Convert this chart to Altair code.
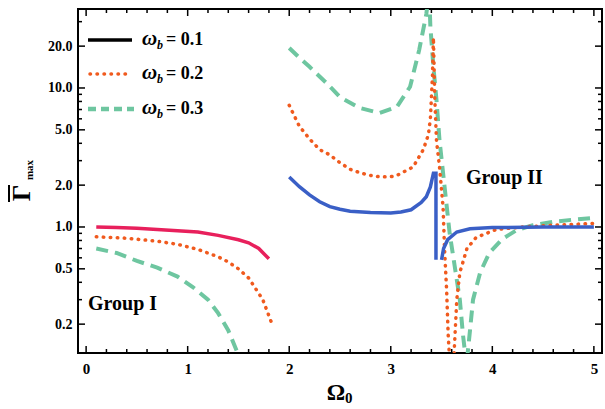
import altair as alt
import pandas as pd

# ---------------- data ----------------
# omega_b = 0.1 (solid)
s1_g1_x = [0.1, 0.3, 0.5, 0.7, 0.9, 1.1, 1.3, 1.5, 1.6, 1.7, 1.8]
s1_g1_y = [1.0, 0.99, 0.98, 0.96, 0.94, 0.92, 0.87, 0.81, 0.77, 0.70, 0.59]
s1_g2a_x = [2.0, 2.1, 2.2, 2.3, 2.4, 2.5, 2.6, 2.8, 3.0, 3.1, 3.2, 3.3, 3.35, 3.39, 3.42, 3.445, 3.445]
s1_g2a_y = [2.29, 1.95, 1.70, 1.52, 1.40, 1.34, 1.30, 1.27, 1.26, 1.28, 1.33, 1.50, 1.65, 1.94, 2.44, 2.44, 0.58]
s1_g2b_x = [3.50, 3.52, 3.56, 3.65, 3.78, 4.0, 4.5, 5.0]
s1_g2b_y = [0.58, 0.70, 0.81, 0.92, 0.97, 0.99, 1.0, 1.0]

# omega_b = 0.2 (dotted)
s2_g1_x = [0.1, 0.4, 0.7, 0.9, 1.1, 1.3, 1.4, 1.5, 1.6, 1.74, 1.82]
s2_g1_y = [0.85, 0.83, 0.79, 0.75, 0.69, 0.61, 0.56, 0.50, 0.43, 0.30, 0.21]
s2_g2a_x = [2.0, 2.1, 2.2, 2.3, 2.4, 2.5, 2.6, 2.7, 2.8, 2.9, 3.0, 3.06, 3.22, 3.32, 3.37, 3.39, 3.41,
            3.42, 3.434, 3.45, 3.48, 3.515, 3.53, 3.55, 3.565, 3.58]
s2_g2a_y = [7.5, 5.3, 4.3, 3.6, 3.3, 2.9, 2.6, 2.45, 2.35, 2.29, 2.3, 2.35, 2.7, 3.6, 4.6, 6.0, 12.0,
            23.0, 8.2, 4.2, 2.7, 1.39, 0.68, 0.35, 0.17, 0.11]
s2_g2b_x = [3.62, 3.65, 3.68, 3.75, 3.84, 4.04, 4.3, 4.6, 5.0]
s2_g2b_y = [0.11, 0.30, 0.47, 0.70, 0.84, 0.96, 1.0, 1.03, 1.06]

# omega_b = 0.3 (dashed)
s3_g1_x = [0.1, 0.3, 0.5, 0.7, 0.9, 1.05, 1.2, 1.3, 1.4, 1.5]
s3_g1_y = [0.70, 0.65, 0.57, 0.51, 0.44, 0.37, 0.30, 0.24, 0.18, 0.12]
s3_g2a_x = [2.0, 2.1, 2.2, 2.37, 2.5, 2.69, 2.89, 3.06, 3.19, 3.28, 3.35, 3.37, 3.38, 3.39, 3.42, 3.45,
            3.48, 3.53, 3.58, 3.63, 3.68, 3.71, 3.74]
s3_g2a_y = [19.4, 16.5, 14.2, 10.8, 8.6, 7.2, 6.6, 7.3, 10.2, 18.8, 34.0, 45.0, 45.0, 27.5, 14.2, 8.2,
            4.2, 1.94, 0.90, 0.52, 0.30, 0.17, 0.11]
s3_g2b_x = [3.75, 3.78, 3.81, 3.88, 3.97, 4.1, 4.24, 4.4, 4.6, 4.8, 5.0]
s3_g2b_y = [0.11, 0.18, 0.30, 0.47, 0.65, 0.82, 0.95, 1.03, 1.09, 1.13, 1.16]

legend_labels = ["= 0.1", "= 0.2", "= 0.3"]
x_tick_labels = [0, 1, 2, 3, 4, 5]
y_tick_labels = [0.2, 0.5, 1.0, 2.0, 5.0, 10.0, 20.0]
x_minor = [round(i * 0.2, 1) for i in range(0, 26) if i % 5 != 0]
y_minor = [0.3, 0.4, 0.6, 0.7, 0.8, 0.9, 3, 4, 6, 7, 8, 9, 30]

# ---------------- build table ----------------
rows = []
def add(seg, style, xs, ys):
    for i, (a, b) in enumerate(zip(xs, ys)):
        rows.append({"x": a, "y": b, "seg": seg, "style": style, "ord": i})

add("s1g1", "solid", s1_g1_x, s1_g1_y)
add("s1g2a", "solid", s1_g2a_x, s1_g2a_y)
add("s1g2b", "solid", s1_g2b_x, s1_g2b_y)
add("s2g1", "dot", s2_g1_x, s2_g1_y)
add("s2g2a", "dot", s2_g2a_x, s2_g2a_y)
add("s2g2b", "dot", s2_g2b_x, s2_g2b_y)
add("s3g1", "dash", s3_g1_x, s3_g1_y)
add("s3g2a", "dash", s3_g2a_x, s3_g2a_y)
add("s3g2b", "dash", s3_g2b_x, s3_g2b_y)
df = pd.DataFrame(rows)

W, H = 524, 344
FONT = "Liberation Serif"
CRIMSON = "#e8205c"
BLUE = "#3a5fc6"
ORANGE = "#f05a1e"
GREEN = "#6ec6a0"

xscale = alt.Scale(domain=[-0.08, 5.08], nice=False, zero=False)
yscale = alt.Scale(type="log", domain=[0.124, 37], nice=False)

xaxis = alt.Axis(values=x_tick_labels, title=None, grid=False, ticks=False, domain=False,
                 labelFont=FONT, labelFontWeight="bold", labelFontSize=15, labelPadding=8,
                 labelColor="black", format="d")
yaxis = alt.Axis(values=y_tick_labels, title=None, grid=False, ticks=False, domain=False,
                 labelFont=FONT, labelFontWeight="bold", labelFontSize=14, labelPadding=6,
                 labelColor="black", format=".1f")

X = alt.X("x:Q", scale=xscale, axis=xaxis)
Y = alt.Y("y:Q", scale=yscale, axis=yaxis)

base = alt.Chart(df)

dashed = base.transform_filter(alt.datum.style == "dash").mark_line(
    color=GREEN, strokeWidth=4, strokeDash=[12, 7], clip=True
).encode(x=X, y=Y, detail="seg:N", order="ord:Q")

dotted = base.transform_filter(alt.datum.style == "dot").mark_line(
    color=ORANGE, strokeWidth=3.5, strokeDash=[0.5, 6.5], strokeCap="round", clip=True
).encode(x=X, y=Y, detail="seg:N", order="ord:Q")

solid = base.transform_filter(alt.datum.style == "solid").mark_line(
    strokeWidth=3.5, clip=True
).encode(
    x=X, y=Y, detail="seg:N", order="ord:Q",
    color=alt.Color("seg:N", scale=alt.Scale(domain=["s1g1", "s1g2a", "s1g2b"],
                                             range=[CRIMSON, BLUE, BLUE]), legend=None),
)

# ---------------- inward ticks on all four sides ----------------
xt_major = pd.DataFrame({"x": x_tick_labels})
xt_minor = pd.DataFrame({"x": x_minor})
yt_major = pd.DataFrame({"y": y_tick_labels})
yt_minor = pd.DataFrame({"y": y_minor})

def xticks(d, length):
    b = alt.Chart(d).mark_rule(color="black", strokeWidth=1.5).encode(
        x=X, y=alt.value(H), y2=alt.value(H - length))
    t = alt.Chart(d).mark_rule(color="black", strokeWidth=1.5).encode(
        x=X, y=alt.value(0), y2=alt.value(length))
    return [b, t]

def yticks(d, length):
    l = alt.Chart(d).mark_rule(color="black", strokeWidth=1.5).encode(
        y=Y, x=alt.value(0), x2=alt.value(length))
    r = alt.Chart(d).mark_rule(color="black", strokeWidth=1.5).encode(
        y=Y, x=alt.value(W), x2=alt.value(W - length))
    return [l, r]

tick_layers = xticks(xt_major, 7) + xticks(xt_minor, 4) + yticks(yt_major, 7) + yticks(yt_minor, 4)

# ---------------- manual legend ----------------
one = pd.DataFrame({"k": [0]})
leg_y = [31, 65, 100]
leg_lines = [
    alt.Chart(one).mark_rule(color="black", strokeWidth=3.5).encode(
        x=alt.value(10), x2=alt.value(54), y=alt.value(leg_y[0])),
    alt.Chart(one).mark_rule(color=ORANGE, strokeWidth=3.5, strokeDash=[0.5, 6.5], strokeCap="round").encode(
        x=alt.value(12), x2=alt.value(54), y=alt.value(leg_y[1])),
    alt.Chart(one).mark_rule(color=GREEN, strokeWidth=4.5, strokeDash=[8, 5]).encode(
        x=alt.value(10), x2=alt.value(56), y=alt.value(leg_y[2])),
]
leg_text = []
for ly, lab in zip(leg_y, legend_labels):
    leg_text.append(alt.Chart(one).mark_text(
        text="ω", font=FONT, fontSize=21, fontWeight="bold", fontStyle="italic",
        align="left", baseline="middle", color="black").encode(x=alt.value(64), y=alt.value(ly - 1)))
    leg_text.append(alt.Chart(one).mark_text(
        text="b", font=FONT, fontSize=12, fontWeight="bold", fontStyle="italic",
        align="left", baseline="middle", color="black").encode(x=alt.value(79), y=alt.value(ly + 5)))
    leg_text.append(alt.Chart(one).mark_text(
        text=lab, font=FONT, fontSize=18, fontWeight="bold",
        align="left", baseline="middle", color="black").encode(x=alt.value(88), y=alt.value(ly)))

# ---------------- annotations and titles ----------------
annot = [
    alt.Chart(one).mark_text(text="Group I", font=FONT, fontSize=20, fontWeight="bold",
                             align="left", baseline="middle", color="black").encode(
        x=alt.value(10), y=alt.value(295)),
    alt.Chart(one).mark_text(text="Group II", font=FONT, fontSize=20, fontWeight="bold",
                             align="left", baseline="middle", color="black").encode(
        x=alt.value(388), y=alt.value(169)),
    alt.Chart(one).mark_text(text="Ω", font=FONT, fontSize=23, fontWeight="bold",
                             align="center", baseline="middle", color="black").encode(
        x=alt.value(258), y=alt.value(384)),
    alt.Chart(one).mark_text(text="0", font=FONT, fontSize=15, fontWeight="bold",
                             align="left", baseline="middle", color="black").encode(
        x=alt.value(267), y=alt.value(389)),
    alt.Chart(one).mark_text(text="Γ", font=FONT, fontSize=26, fontWeight="bold", angle=270,
                             align="center", baseline="middle", color="black").encode(
        x=alt.value(-56), y=alt.value(184)),
    alt.Chart(one).mark_rule(color="black", strokeWidth=2).encode(
        x=alt.value(-69), y=alt.value(176), y2=alt.value(193)),
    alt.Chart(one).mark_text(text="max", font=FONT, fontSize=11, fontWeight="bold", angle=270,
                             align="center", baseline="middle", color="black").encode(
        x=alt.value(-48), y=alt.value(161)),
]

chart = alt.layer(dashed, dotted, solid, *tick_layers, *leg_lines, *leg_text, *annot).properties(
    width=W, height=H,
    autosize=alt.AutoSizeParams(type="none"),
    padding={"left": 78, "top": 9, "right": 3, "bottom": 56},
).configure_view(stroke="black", strokeWidth=2)

chart.save("out.html", embed_options={"renderer": "svg", "actions": False})
